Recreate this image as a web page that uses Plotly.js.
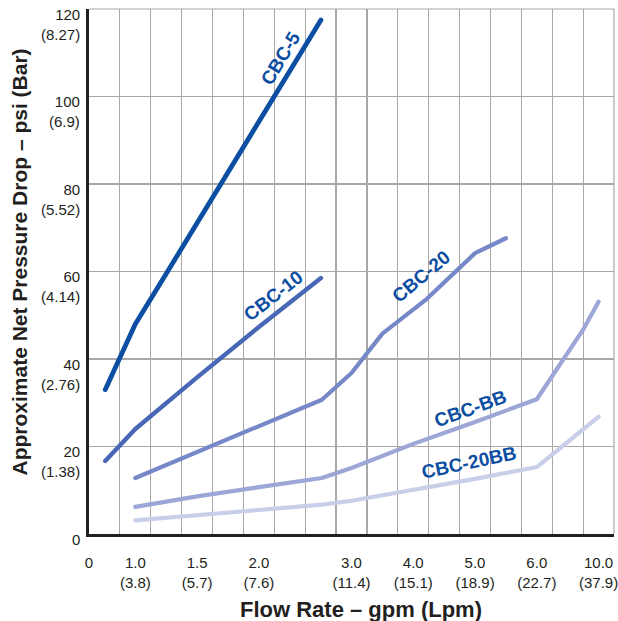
<!DOCTYPE html>
<html>
<head>
<meta charset="utf-8">
<script src="https://cdn.plot.ly/plotly-3.0.1.min.js"></script>
<style>
  html, body { margin: 0; padding: 0; background: #ffffff; }
  #chart { width: 618px; height: 621px; }
  #chart path.js-line { stroke-linecap: round; stroke-linejoin: round; }
</style>
</head>
<body>
<div id="chart"></div>
<script>
// ---- Axis tick definitions (flow rate axis is non-linear in the original) ----
const gpmTicks = [0, 1.0, 1.5, 2.0, 3.0, 4.0, 5.0, 6.0, 10.0];
const lpmTicks = [null, 3.8, 5.7, 7.6, 11.4, 15.1, 18.9, 22.7, 37.9];
const psiTicks = [0, 20, 40, 60, 80, 100, 120];
const barTicks = [null, 1.38, 2.76, 4.14, 5.52, 6.9, 8.27];

// ---- Series (gpm, psi) ----
const cbc5Gpm  = [0.35, 1.0, 1.25, 1.5, 2.0, 2.67];
const cbc5Psi  = [33.0, 48.0, 59.5, 71.0, 94.0, 117.5];

const cbc10Gpm = [0.35, 1.0, 1.5, 2.0, 2.67];
const cbc10Psi = [16.7, 24.0, 35.8, 47.3, 58.5];

const cbc20Gpm = [1.0, 2.0, 2.68, 3.0, 3.5, 4.2, 5.0, 5.5];
const cbc20Psi = [12.8, 24.6, 30.7, 36.8, 45.8, 53.5, 64.2, 67.6];

const cbcBBGpm = [1.0, 1.5, 2.0, 2.68, 3.0, 4.0, 5.0, 6.0, 9.0, 10.0];
const cbcBBPsi = [6.2, 8.6, 10.7, 12.8, 15.1, 20.6, 25.6, 30.8, 46.7, 53.1];

const cbc20BBGpm = [1.0, 1.5, 2.0, 2.68, 3.0, 4.0, 5.0, 6.0, 10.0];
const cbc20BBPsi = [3.1, 4.3, 5.5, 6.7, 7.6, 10.0, 12.6, 15.3, 26.8];

// ---- Scale: piecewise mapping of gpm onto the printed (uneven) axis ----
const tickSlots = [0, 1.5, 3.5, 5.5, 8.5, 10.5, 12.5, 14.5, 16.5];
function slot(g) {
  for (let i = 1; i < gpmTicks.length; i++) {
    if (g <= gpmTicks[i]) {
      const t = (g - gpmTicks[i - 1]) / (gpmTicks[i] - gpmTicks[i - 1]);
      return tickSlots[i - 1] + t * (tickSlots[i] - tickSlots[i - 1]);
    }
  }
  return tickSlots[tickSlots.length - 1];
}

const FONT = '"Liberation Sans", Arial, Helvetica, sans-serif';
const TXT = '#231f20';
const LABEL = '#0b4ea2';

function series(name, gpm, psi, color, width) {
  return {
    type: 'scatter', mode: 'lines', name: name,
    x: gpm.map(slot), y: psi,
    line: { color: color, width: width, shape: 'linear' },
    hoverinfo: 'skip', showlegend: false
  };
}

const data = [
  series('CBC-20BB', cbc20BBGpm, cbc20BBPsi, '#c9cee9', 4.2),
  series('CBC-BB', cbcBBGpm, cbcBBPsi, '#9ca6d7', 4.2),
  series('CBC-20', cbc20Gpm, cbc20Psi, '#7788c8', 4.2),
  series('CBC-10', cbc10Gpm, cbc10Psi, '#4868b6', 4.4),
  series('CBC-5', cbc5Gpm, cbc5Psi, '#0b4ea2', 4.8)
];

const xTickText = gpmTicks.map((g, i) =>
  lpmTicks[i] === null ? String(g) : g.toFixed(1) + '<br>(' + lpmTicks[i] + ')');

const annotations = [];
// y tick labels (first line sits on the grid line, as in the original)
psiTicks.forEach((p, i) => {
  annotations.push({
    xref: 'paper', yref: 'y', x: 0, y: p,
    xanchor: 'right', yanchor: 'top', xshift: -7, yshift: 5.5,
    align: 'right', showarrow: false,
    text: barTicks[i] === null ? String(p) : p + '<br>(' + barTicks[i] + ')',
    font: { family: FONT, size: 15, color: TXT }
  });
});

// series labels along the curves
const seriesLabels = [
  { t: 'CBC-5', g: 2.23, p: 108.8, a: -59 },
  { t: 'CBC-10', g: 2.16, p: 54.5, a: -38 },
  { t: 'CBC-20', g: 4.13, p: 58.8, a: -40 },
  { t: 'CBC-BB', g: 4.93, p: 28.6, a: -20 },
  { t: 'CBC-20BB', g: 4.9, p: 16.3, a: -12 }
];
seriesLabels.forEach(l => {
  annotations.push({
    xref: 'x', yref: 'y', x: slot(l.g), y: l.p,
    xanchor: 'center', yanchor: 'middle', textangle: l.a,
    showarrow: false, text: '<b>' + l.t + '</b>',
    font: { family: FONT, size: 19, color: LABEL }
  });
});

// axis titles
annotations.push({
  xref: 'paper', yref: 'paper', x: 0.519, y: -0.143,
  xanchor: 'center', yanchor: 'middle', showarrow: false,
  text: '<b>Flow Rate – gpm (Lpm)</b>',
  font: { family: FONT, size: 22, color: TXT }
});
annotations.push({
  xref: 'paper', yref: 'paper', x: -0.1324, y: 0.518,
  xanchor: 'center', yanchor: 'middle', showarrow: false, textangle: -90,
  text: '<b>Approximate Net Pressure Drop – psi (Bar)</b>',
  font: { family: FONT, size: 21, color: TXT }
});

const layout = {
  width: 618, height: 621,
  margin: { l: 89, r: 4, t: 9, b: 87 },
  paper_bgcolor: '#ffffff', plot_bgcolor: '#ffffff',
  xaxis: {
    range: [0, 17], fixedrange: true,
    tickmode: 'array', tickvals: tickSlots, ticktext: xTickText,
    showgrid: false, zeroline: false, ticks: '',
    ticklabelstandoff: 13, ticklabeloverflow: 'allow',
    tickfont: { family: FONT, size: 15, color: TXT },
    showline: true, linecolor: TXT, linewidth: 3,
    minor: { tickmode: 'linear', tick0: 0, dtick: 1, showgrid: true,
             gridcolor: '#a8a8a8', gridwidth: 1.2, ticks: '' }
  },
  yaxis: {
    range: [0, 120], fixedrange: true,
    tickmode: 'array', tickvals: psiTicks, showticklabels: false,
    showgrid: true, gridcolor: '#a8a8a8', gridwidth: 1.2,
    zeroline: false, ticks: '',
    showline: true, linecolor: TXT, linewidth: 3
  },
  shapes: [
    { type: 'line', xref: 'paper', yref: 'paper', x0: 0, x1: 1, y0: 1, y1: 1,
      line: { color: '#a8a8a8', width: 1.2 }, layer: 'below' },
    { type: 'line', xref: 'paper', yref: 'paper', x0: 1, x1: 1, y0: 0, y1: 1,
      line: { color: '#a8a8a8', width: 1.2 }, layer: 'below' }
  ],
  annotations: annotations
};

Plotly.newPlot('chart', data, layout, { staticPlot: true, displayModeBar: false });
</script>
</body>
</html>
